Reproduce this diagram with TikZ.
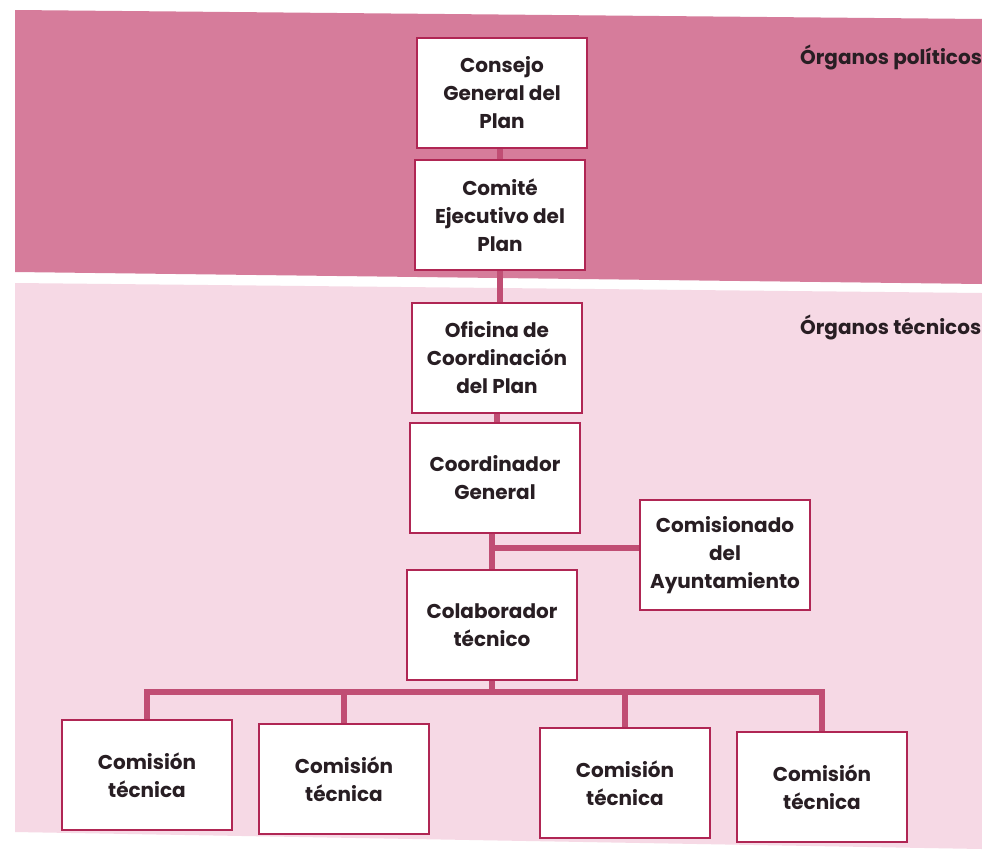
\documentclass[tikz,border=0pt]{standalone}
\usepackage{fontspec}
\setmainfont{Poppins}
\definecolor{bandtop}{RGB}{214,124,155}
\definecolor{bandlow}{RGB}{246,217,229}
\definecolor{boxline}{RGB}{176,38,84}
\definecolor{conn}{RGB}{192,78,116}
\definecolor{ink}{RGB}{40,30,35}
\tikzset{
  orgbox/.style={draw=boxline, line width=2.6pt, fill=white, minimum width=170pt, minimum height=110pt,
    align=center, text=ink, font=\fontsize{20}{28}\selectfont\bfseries, inner sep=2pt},
  link/.style={draw=conn, line width=6pt},
  bandlabel/.style={anchor=west, text=ink, font=\fontsize{20}{24}\selectfont\bfseries, inner sep=0pt}
}
\begin{document}
\begin{tikzpicture}[x=1pt,y=-1pt]
\useasboundingbox (0,0) rectangle (982,849);
\fill[white] (0,0) rectangle (982,849);
% bands
\fill[bandtop] (15,10) -- (982,19) -- (982,284) -- (15,272) -- cycle;
\fill[bandlow] (15,283) -- (982,293) -- (982,849) -- (15,832) -- cycle;
\node[bandlabel] (lp) at (800,57) {Órganos políticos};
\node[bandlabel] (lt) at (800,327) {Órganos técnicos};
% junction points
\coordinate (j1) at (492,548);
\coordinate (bus) at (492,692);
\coordinate (b1) at (147,692);
\coordinate (b2) at (344,692);
\coordinate (b3) at (625,692);
\coordinate (b4) at (822,692);
% boxes
\node[orgbox] (cg) at (502,93) {Consejo\\General del\\Plan};
\node[orgbox] (ce) at (500,215) {Comité\\Ejecutivo del\\Plan};
\node[orgbox] (oc) at (497,358) {Oficina de\\Coordinación\\del Plan};
\node[orgbox] (co) at (495,478) {Coordinador\\General};
\node[orgbox] (cm) at (725,555) {Comisionado\\del\\Ayuntamiento};
\node[orgbox] (cl) at (492,625) {Colaborador\\técnico};
\node[orgbox] (t1) at (147,775) {Comisión\\técnica};
\node[orgbox] (t2) at (344,779) {Comisión\\técnica};
\node[orgbox] (t3) at (625,783) {Comisión\\técnica};
\node[orgbox] (t4) at (822,787) {Comisión\\técnica};
% connectors
\draw[link] (cg.south -| ce.north) -- (ce.north);
\draw[link] (ce.south) -- (oc.north -| ce.south);
\draw[link] (oc.south) -- (co.north -| oc.south);
\draw[link] (co.south -| j1) -- (cl.north -| j1);
\draw[link] (j1) -- (cm.west |- j1);
\draw[link] (cl.south -| bus) -- (bus);
\draw[link, line cap=rect] (b1) -- (b4);
\draw[link] (b1) -- (t1.north);
\draw[link] (b2) -- (t2.north);
\draw[link] (b3) -- (t3.north);
\draw[link] (b4) -- (t4.north);
\end{tikzpicture}
\end{document}
